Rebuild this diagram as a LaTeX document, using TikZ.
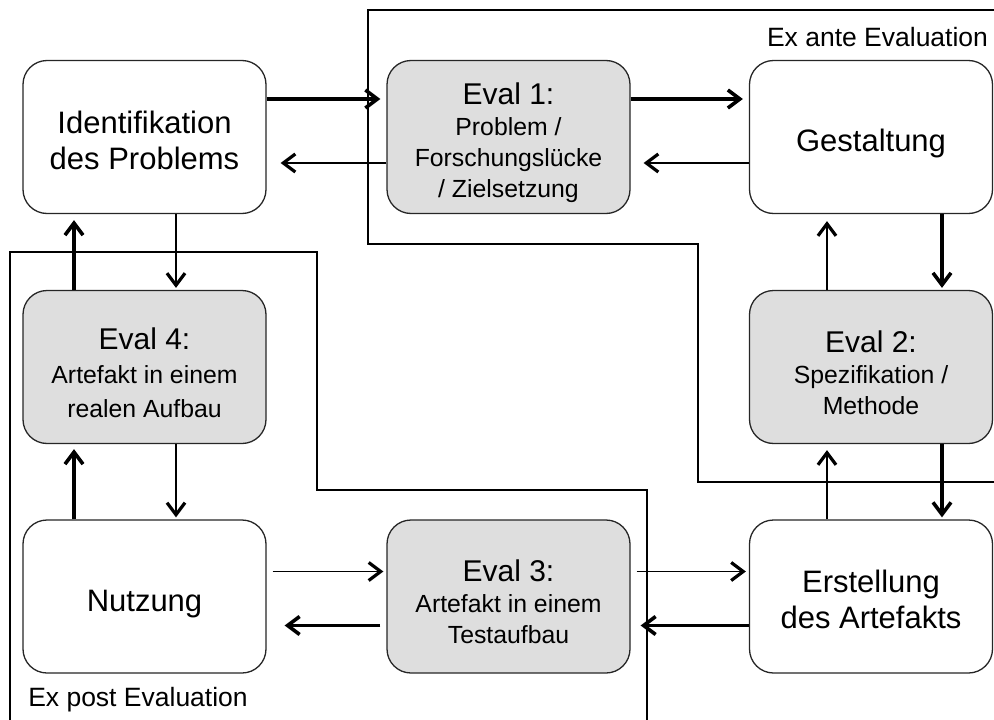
\documentclass[tikz,border=0pt]{standalone}
\usepackage{fontspec}
\setmainfont{Liberation Sans}
\usetikzlibrary{arrows.meta}
% a raised strut pushes a node's text block slightly downwards
\newcommand{\lift}[1]{\rule{0pt}{#1pt}}
\newcommand{\evaltitle}[1]{{\fontsize{30}{31}\selectfont\lift{33}#1}}
\begin{document}
\begin{tikzpicture}[x=1pt,y=-1pt,
  box/.style={draw=black!85, line width=1.3pt, rounded corners=24pt,
    minimum width=243pt, minimum height=153pt, align=center, inner sep=0pt},
  plainbox/.style={box, fill=white, font=\fontsize{31}{36}\selectfont},
  evalbox/.style={box, fill=black!13, font=\fontsize{24.8}{31}\selectfont},
  lightarrow/.style={line width=1.7pt, -{Straight Barb[length=12pt,width=18pt,line width=3.2pt]}},
  heavyarrow/.style={line width=3.8pt, -{Straight Barb[length=12pt,width=18pt,line width=3.6pt]}},
  zoneframe/.style={line width=1.8pt},
  zonelabel/.style={font=\fontsize{26.5}{30}\selectfont, inner sep=0pt}]

\useasboundingbox (0,0) rectangle (994,720);

% evaluation zones
\coordinate (antestart) at (994,10);
\coordinate (anteend) at (994,482);
\draw[zoneframe] (antestart) -- (368,10) -- (368,244) -- (698,244) -- (698,482) -- (anteend);
\coordinate (poststart) at (10,720);
\coordinate (postend) at (647,720);
\draw[zoneframe] (poststart) -- (10,252) -- (317,252) -- (317,490) -- (647,490) -- (postend);

\node[zonelabel] (antelabel) at (877.5,37) {Ex ante Evaluation};
\node[zonelabel] (postlabel) at (138,700) {Ex post Evaluation};

% process steps and evaluations
\node[plainbox] (ident) at (144.5,137) {\lift{29}Identifikation\\des Problems};
\node[evalbox]  (e1)    at (508.5,137) {\evaltitle{Eval 1:}\\Problem /\\Forschungslücke\\/ Zielsetzung};
\node[plainbox] (gest)  at (871,137)   {\lift{35}Gestaltung};
\node[evalbox, font=\fontsize{24.8}{34}\selectfont] (e4) at (144.5,367) {\evaltitle{Eval 4:}\\Artefakt in einem\\realen Aufbau};
\node[evalbox]  (e2)    at (871,367)   {\evaltitle{Eval 2:}\\Spezifikation /\\Methode};
\node[plainbox] (nutz)  at (144.5,596.5) {\lift{37}Nutzung};
\node[evalbox]  (e3)    at (508.5,596.5) {\evaltitle{Eval 3:}\\Artefakt in einem\\Testaufbau};
\node[plainbox] (erst)  at (871,596.5) {\lift{29}Erstellung\\des Artefakts};

% top row
\draw[heavyarrow, shorten >=6pt] ([yshift=38pt]ident.east) -- ([yshift=38pt]e1.west);
\draw[lightarrow, shorten >=14pt] ([yshift=-26pt]e1.west) -- ([yshift=-26pt]ident.east);
\draw[heavyarrow, shorten >=6pt] ([yshift=38pt]e1.east) -- ([yshift=38pt]gest.west);
\draw[lightarrow, shorten >=13pt] ([yshift=-26pt]gest.west) -- ([yshift=-26pt]e1.east);

% bottom row
\draw[lightarrow, shorten <=6pt, shorten >=3pt] ([yshift=25pt]nutz.east) -- ([yshift=25pt]e3.west);
\draw[heavyarrow, shorten <=6pt, shorten >=18pt] ([yshift=-29pt]e3.west) -- ([yshift=-29pt]nutz.east);
\draw[lightarrow, shorten <=6pt, shorten >=3pt] ([yshift=25pt]e3.east) -- ([yshift=25pt]erst.west);
\draw[heavyarrow, shorten >=10pt] ([yshift=-29pt]erst.west) -- ([yshift=-29pt]e3.east);

% left column
\draw[heavyarrow, shorten >=6pt] ([xshift=-70.5pt]e4.north) -- ([xshift=-70.5pt]ident.south);
\draw[lightarrow, shorten >=2pt] ([xshift=31.5pt]ident.south) -- ([xshift=31.5pt]e4.north);
\draw[heavyarrow, shorten >=5pt] ([xshift=-70.5pt]nutz.north) -- ([xshift=-70.5pt]e4.south);
\draw[lightarrow, shorten >=2pt] ([xshift=31.5pt]e4.south) -- ([xshift=31.5pt]nutz.north);

% right column
\draw[lightarrow, shorten >=7pt] ([xshift=-44pt]e2.north) -- ([xshift=-44pt]gest.south);
\draw[heavyarrow, shorten >=2pt] ([xshift=71pt]gest.south) -- ([xshift=71pt]e2.north);
\draw[lightarrow, shorten >=6pt] ([xshift=-44pt]erst.north) -- ([xshift=-44pt]e2.south);
\draw[heavyarrow, shorten >=2pt] ([xshift=71pt]e2.south) -- ([xshift=71pt]erst.north);
\end{tikzpicture}
\end{document}
